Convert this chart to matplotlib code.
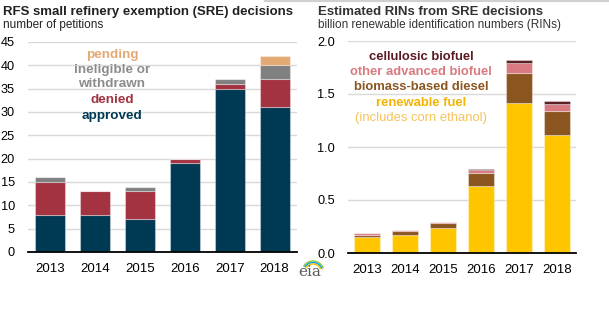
import matplotlib.pyplot as plt
import numpy as np
from matplotlib.patches import Arc

plt.rcParams['font.family'] = ['Liberation Sans', 'DejaVu Sans']

years = ['2013', '2014', '2015', '2016', '2017', '2018']

# petitions by outcome
approved = [8, 8, 7, 19, 35, 31]
denied = [7, 5, 6, 1, 1, 6]
ineligible = [1, 0, 1, 0, 1, 3]
pending = [0, 0, 0, 0, 0, 2]

# billion RINs by category
renewable = [0.155, 0.17, 0.24, 0.635, 1.415, 1.113]
biomass_diesel = [0.015, 0.04, 0.045, 0.12, 0.285, 0.227]
other_adv = [0.02, 0.005, 0.005, 0.025, 0.095, 0.07]
cellulosic = [0.0, 0.0, 0.0, 0.01, 0.025, 0.025]

W, H = 609, 323
fig = plt.figure(figsize=(6.09, 3.23), dpi=100)

def px_axes(x0, y0, x1, y1):
    return fig.add_axes([x0 / W, 1 - y1 / H, (x1 - x0) / W, (y1 - y0) / H])

def style(ax, ymax, step, fmt):
    ax.set_xlim(-0.5, 5.5)
    ax.set_ylim(0, ymax)
    ticks = np.arange(0, ymax + step / 2, step)
    ax.set_yticks(ticks)
    ax.set_yticklabels([fmt.format(t) for t in ticks])
    ax.yaxis.grid(True, color='#d9d9d9', linewidth=1)
    ax.set_axisbelow(True)
    for s in ['top', 'right', 'left']:
        ax.spines[s].set_visible(False)
    ax.spines['bottom'].set_color('black')
    ax.spines['bottom'].set_linewidth(1.3)
    ax.tick_params(axis='both', length=0, colors='black')
    ax.tick_params(axis='x', pad=8, labelsize=9.5)
    ax.tick_params(axis='y', pad=9.4, labelsize=9.2)

def stack(ax, series, colors, width):
    x = np.arange(len(years))
    bottom = np.zeros(len(years))
    for vals, c in zip(series, colors):
        vals = np.array(vals, dtype=float)
        ax.bar(x, vals, width, bottom=bottom, color=c,
               edgecolor=(1, 1, 1, 0.35), linewidth=0.8)
        bottom += vals
    ax.set_xticks(x)
    ax.set_xticklabels(years)

# left panel: petitions
ax1 = px_axes(28, 42, 297, 252)
style(ax1, 45, 5, '{:.0f}')
stack(ax1, [approved, denied, ineligible, pending],
      ['#003953', '#a33340', '#808080', '#e3aa74'], 0.667)

# right panel: RINs
ax2 = px_axes(348, 41, 576, 253)
style(ax2, 2.0, 0.5, '{:.1f}')
stack(ax2, [renewable, biomass_diesel, other_adv, cellulosic],
      ['#ffc600', '#8b5520', '#d87a80', '#5b1a22'], 0.66)

def ftext(x, y, s, **kw):
    fig.text(x / W, 1 - y / H, s, **kw)

ftext(3, 12, 'RFS small refinery exemption (SRE) decisions', fontsize=9.5,
      fontweight='bold', color='#222222', va='center')
ftext(3, 25, 'number of petitions', fontsize=8.5, color='#222222', va='center')
ftext(318, 12, 'Estimated RINs from SRE decisions', fontsize=9.5,
      fontweight='bold', color='#333333', va='center')
ftext(318, 25, 'billion renewable identification numbers (RINs)', fontsize=8.5,
      color='#333333', va='center')

# legend labels drawn inside the plots
lkw = dict(fontsize=9.7, fontweight='bold', ha='center', va='center')
ftext(112, 55, 'pending', color='#e3aa74', **lkw)
ftext(112, 70, 'ineligible or', color='#8c8c8c', **lkw)
ftext(112, 84, 'withdrawn', color='#8c8c8c', **lkw)
ftext(112, 100, 'denied', color='#a33340', **lkw)
ftext(112, 116, 'approved', color='#003953', **lkw)

rkw = dict(lkw, fontsize=9.4)
ftext(421, 57, 'cellulosic biofuel', color='#5b1a22', **rkw)
ftext(421, 72, 'other advanced biofuel', color='#d87a80', **rkw)
ftext(421, 87, 'biomass-based diesel', color='#8b5520', **rkw)
ftext(421, 103, 'renewable fuel', color='#f2b400', **rkw)
ftext(421, 118, '(includes corn ethanol)', color='#f5c35a', fontsize=9.4,
      ha='center', va='center')

# thin rule along the top edge
fig.add_artist(plt.Line2D([265 / W, 1], [1 - 0.5 / H, 1 - 0.5 / H],
                          color='#d0d0d0', linewidth=1.5))

# eia mark
ftext(310, 272, 'eia', fontsize=11, family='DejaVu Serif', color='#5a5a5a',
      ha='center', va='center')
lax = fig.add_axes([296 / W, 1 - 272 / H, 30 / W, 16 / H])
lax.set_xlim(0, 30)
lax.set_ylim(0, 16)
lax.axis('off')
for r, c in [(11, '#8dc63f'), (9.5, '#00a3e0'), (8, '#f2c200')]:
    lax.add_patch(Arc((17, 0), 2 * r, 2 * r, theta1=20, theta2=150,
                      color=c, linewidth=1))

fig.savefig('out.png', dpi=100)
